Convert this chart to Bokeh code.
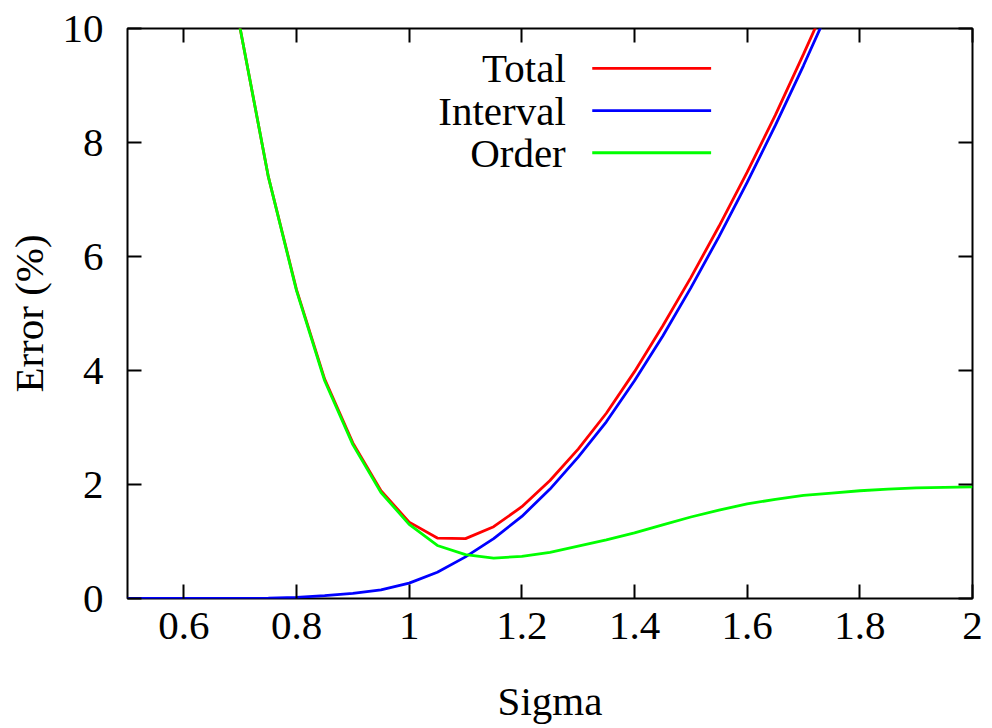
from bokeh.plotting import figure
from bokeh.models import (Range1d, LinearAxis, FixedTicker, CustomJSTickFormatter,
                          Label, Arrow, ColumnDataSource)
from bokeh.embed import file_html
from bokeh.resources import INLINE

# ---- data ----
sigma = [0.50, 0.55, 0.60, 0.65, 0.70, 0.75, 0.80, 0.85, 0.90, 0.95,
         1.00, 1.05, 1.10, 1.15, 1.20, 1.25, 1.30, 1.35, 1.40, 1.45,
         1.50, 1.55, 1.60, 1.65, 1.70, 1.75, 1.80, 1.85, 1.90, 1.95, 2.00]
total = [38.0, 28.0, 20.5, 13.8, 10.0, 7.40, 5.42, 3.85, 2.73, 1.89,
         1.34, 1.06, 1.05, 1.26, 1.61, 2.07, 2.62, 3.25, 3.98, 4.78,
         5.63, 6.53, 7.48, 8.48, 9.55, 10.65, 11.8, 13.0, 14.3, 15.6, 17.0]
interval = [0.0, 0.0, 0.0, 0.0, 0.0, 0.005, 0.02, 0.05, 0.09, 0.15,
            0.27, 0.46, 0.73, 1.05, 1.44, 1.92, 2.48, 3.10, 3.82, 4.60,
            5.45, 6.35, 7.30, 8.30, 9.35, 10.45, 11.6, 12.8, 14.1, 15.4, 16.8]
order = [38.0, 28.0, 20.5, 13.8, 10.0, 7.40, 5.40, 3.82, 2.70, 1.86,
         1.30, 0.93, 0.77, 0.71, 0.74, 0.81, 0.92, 1.03, 1.15, 1.29,
         1.43, 1.55, 1.66, 1.74, 1.81, 1.85, 1.89, 1.92, 1.94, 1.95, 1.96]

series_names = ["Total", "Interval", "Order"]
series_colors = ["#ff0000", "#0000ff", "#00ff00"]
x_ticks = [0.6, 0.8, 1.0, 1.2, 1.4, 1.6, 1.8, 2.0]
y_ticks = [0, 2, 4, 6, 8, 10]

FONT = "Liberation Serif"
FS = "41px"

p = figure(width=992, height=728, output_backend="svg", toolbar_location=None,
           x_range=Range1d(0.5, 2.0), y_range=Range1d(0, 10),
           min_border_left=127, min_border_right=20, min_border_top=28,
           min_border_bottom=130, x_axis_label="Sigma", y_axis_label="Error (%)")
p.background_fill_color = "white"
p.border_fill_color = "white"
p.grid.visible = False
p.outline_line_color = "black"
p.outline_line_width = 2

fmt = CustomJSTickFormatter(code="return Number(tick.toFixed(2)).toString();")
blank = CustomJSTickFormatter(code="return '';")

def style_axis(ax):
    ax.axis_line_color = None
    ax.major_tick_in = 14
    ax.major_tick_out = 0
    ax.minor_tick_in = 0
    ax.minor_tick_out = 0
    ax.major_tick_line_color = "black"
    ax.major_tick_line_width = 2
    ax.major_label_text_font = FONT
    ax.major_label_text_font_size = FS
    ax.major_label_text_color = "black"
    ax.axis_label_text_font = FONT
    ax.axis_label_text_font_size = FS
    ax.axis_label_text_font_style = "normal"
    ax.axis_label_text_color = "black"

p.xaxis.ticker = FixedTicker(ticks=x_ticks)
p.yaxis.ticker = FixedTicker(ticks=y_ticks)
p.xaxis.formatter = fmt
p.yaxis.formatter = fmt
for ax in p.xaxis + p.yaxis:
    style_axis(ax)
p.xaxis.major_label_standoff = 14
p.xaxis.axis_label_standoff = 36
p.yaxis.major_label_standoff = 24
p.yaxis.axis_label_standoff = 8

top = LinearAxis(ticker=FixedTicker(ticks=x_ticks), formatter=blank)
style_axis(top)
top.major_label_standoff = 0
p.add_layout(top, "above")
right = LinearAxis(ticker=FixedTicker(ticks=y_ticks), formatter=blank)
style_axis(right)
right.major_label_standoff = 0
p.add_layout(right, "right")

src = ColumnDataSource(dict(sigma=sigma, total=total, interval=interval, order=order))
for col, color in zip(["total", "interval", "order"], series_colors):
    p.line("sigma", col, source=src, line_color=color, line_width=2.8)

# ---- key (text right-aligned, sample line to the right, gnuplot style) ----
key_text_x = 1.278
key_line_x0, key_line_x1 = 1.325, 1.536
key_rows_y = [9.30, 8.56, 7.82]
for name, color, ky in zip(series_names, series_colors, key_rows_y):
    p.add_layout(Label(x=key_text_x, y=ky, text=name, text_align="right",
                       text_baseline="middle", text_font=FONT,
                       text_font_size=FS, text_color="black"))
    p.add_layout(Arrow(end=None, x_start=key_line_x0, y_start=ky,
                       x_end=key_line_x1, y_end=ky,
                       line_color=color, line_width=2.8))

open("out.html", "w").write(file_html(p, INLINE))
